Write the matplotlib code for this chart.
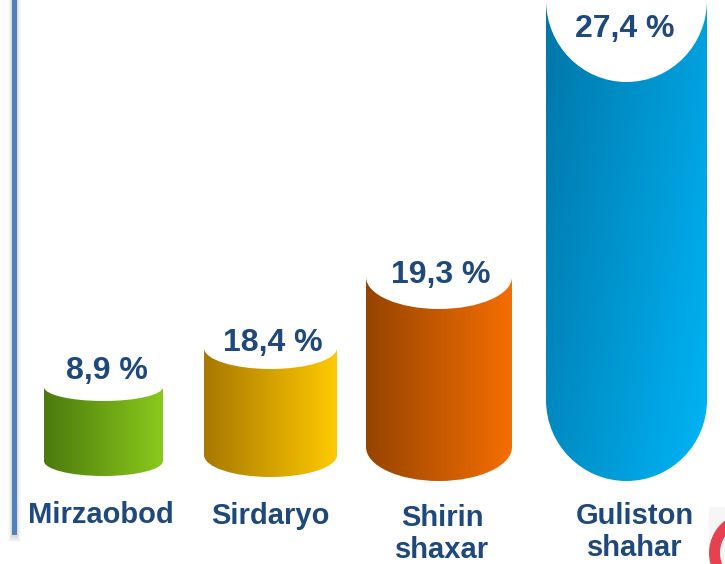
import numpy as np
import matplotlib
matplotlib.use("Agg")
import matplotlib.pyplot as plt
from matplotlib.colors import LinearSegmentedColormap
from matplotlib.patches import Arc, PathPatch, Rectangle
from matplotlib.path import Path

plt.rcParams['font.family'] = ['Liberation Sans', 'DejaVu Sans']

# Data
labels = ["Mirzaobod", "Sirdaryo", "Shirin\nshaxar", "Guliston\nshahar"]
values = ["8,9 %", "18,4 %", "19,3 %", "27,4 %"]

# Cylinder shapes in pixels: left, right, top of side, top dip, bottom of side, bottom
lefts = [44, 204, 366, 546]
rights = [163, 337, 512, 707]
tops = [387, 348, 277, 0]
dips = [14, 21, 32, 82]
side_bottoms = [461, 455, 447, 400]
bottoms = [476, 477, 481, 481]

dark = ["#4C7A0E", "#A87800", "#964400", "#0076A8"]
light = ["#8AC91C", "#FFCA00", "#F66E00", "#00B5F7"]

label_x = [101, 270, 442, 635]
label_y = [515, 516, 534, 532]
line_gaps = [1.15, 1.15, 1.22, 1.2]
value_x = [107, 273, 441, 625]
value_y = [371, 343, 275, 29]

TEXT = "#1F497D"


def half_ellipse(x0, x1, y, ry):
    # cubic bezier half ellipse going from x0 to x1
    k = 0.5523
    cx = (x0 + x1) / 2
    rx = abs(x1 - x0) / 2
    sx = 1 if x1 > x0 else -1
    return [(x0, y + k * ry), (cx - sx * k * rx, y + ry), (cx, y + ry),
            (cx + sx * k * rx, y + ry), (x1, y + k * ry), (x1, y)]


fig = plt.figure(figsize=(7.25, 5.64), dpi=100)
ax = fig.add_axes([0, 0, 1, 1])
ax.set_xlim(0, 725)
ax.set_ylim(564, 0)
ax.axis("off")

# Left rule with soft shadow
for w, end, a in [(13, 542, 0.03), (11, 541, 0.04), (9, 540, 0.06), (7, 538, 0.10)]:
    ax.add_patch(Rectangle((14.5 - w / 2, 0), w, end, color="#606060", alpha=a, lw=0))
ax.add_patch(Rectangle((12, 0), 5, 535, color="#4F81BD", lw=0))

# Cylinders
for i in range(4):
    x0, x1 = lefts[i], rights[i]
    top, dip = tops[i], dips[i]
    sb, bot = side_bottoms[i], bottoms[i]
    verts = [(x0, top)] + half_ellipse(x0, x1, top, dip)
    verts += [(x1, sb)] + half_ellipse(x1, x0, sb, bot - sb) + [(x0, top)]
    codes = [Path.MOVETO] + [Path.CURVE4] * 6 + [Path.LINETO] + [Path.CURVE4] * 6 + [Path.CLOSEPOLY]
    clip = PathPatch(Path(verts, codes), fc="none", ec="none", transform=ax.transData)
    ax.add_patch(clip)
    cmap = LinearSegmentedColormap.from_list("c%d" % i, [dark[i], light[i]])
    xx, yy = np.meshgrid(np.linspace(0, 1, 200), np.linspace(0, 1, 200))
    # the tall blue one runs diagonal, lighter towards the bottom right
    grad = xx * 0.65 + yy * 0.35 if i == 3 else xx
    im = ax.imshow(grad, cmap=cmap, extent=(x0, x1, top, bot), origin="lower", aspect="auto",
                   vmin=0, vmax=1, interpolation="bilinear", zorder=2)
    im.set_clip_path(clip)

ax.set_xlim(0, 725)
ax.set_ylim(564, 0)

# Text
for i in range(4):
    ax.text(value_x[i], value_y[i], values[i], color=TEXT, fontsize=23, fontweight="bold",
            ha="center", va="center", zorder=3)
    ax.text(label_x[i], label_y[i], labels[i], color=TEXT, fontsize=21, fontweight="bold",
            ha="center", va="center", linespacing=line_gaps[i], zorder=3)

# Logo corner
ax.add_patch(Rectangle((709, 507), 16, 57, color="#F6F6F6", lw=0, zorder=1))
ax.add_patch(Arc((750, 553), 71, 71, theta1=120, theta2=240, color="#E8404F", lw=7.9, zorder=2))

fig.savefig("out.png", dpi=100)
